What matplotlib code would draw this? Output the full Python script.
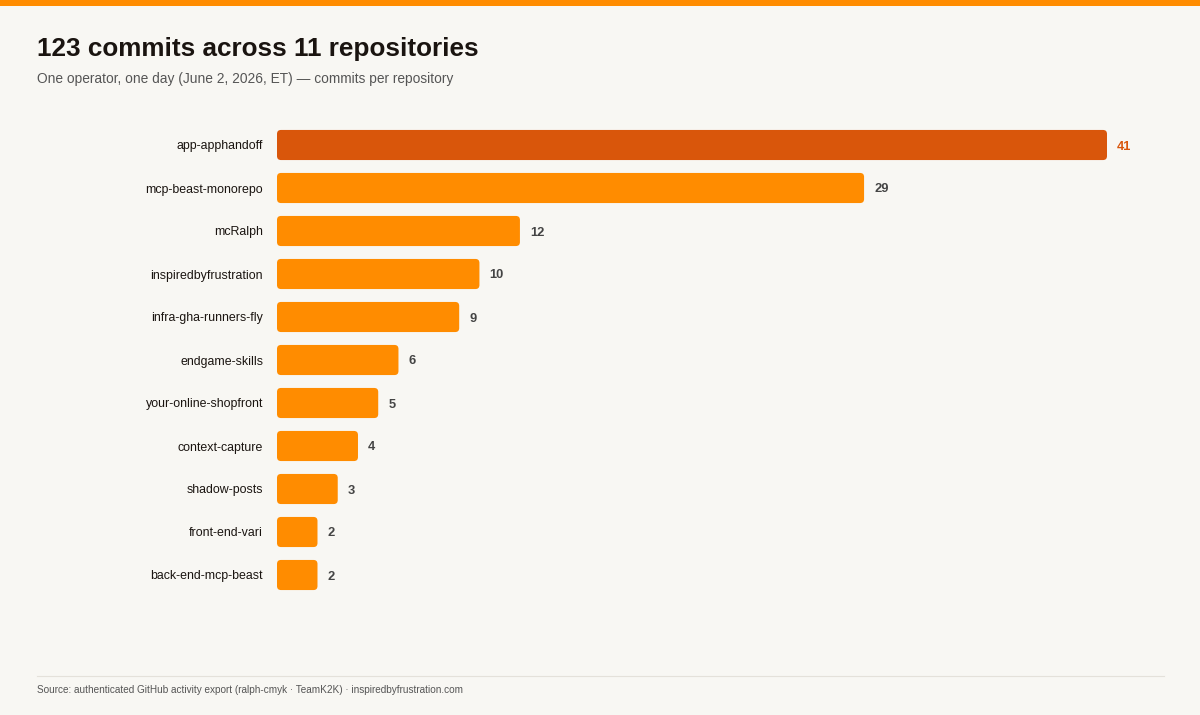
"""
Commits per repository for one day — horizontal bar chart.
"""

import matplotlib.pyplot as plt
from matplotlib.patches import FancyBboxPatch, Rectangle
from matplotlib.lines import Line2D

# ── Data ──────────────────────────────────────────────────────────────────────
REPOS = [
    "app-apphandoff",
    "mcp-beast-monorepo",
    "mcRalph",
    "inspiredbyfrustration",
    "infra-gha-runners-fly",
    "endgame-skills",
    "your-online-shopfront",
    "context-capture",
    "shadow-posts",
    "front-end-vari",
    "back-end-mcp-beast",
]
COMMITS = [41, 29, 12, 10, 9, 6, 5, 4, 3, 2, 2]

TITLE = "123 commits across 11 repositories"
SUBTITLE = "One operator, one day (June 2, 2026, ET) \u2014 commits per repository"
SOURCE = ("Source: authenticated GitHub activity export (ralph-cmyk \u00b7 TeamK2K) "
          "\u00b7 inspiredbyfrustration.com")

# ── Style ─────────────────────────────────────────────────────────────────────
BG = "#f8f7f3"
ORANGE = "#ff8c00"
DARK_ORANGE = "#d9560b"
TEXT = "#1a1410"
MUTED = "#555555"
plt.rcParams["font.family"] = ["Liberation Sans", "DejaVu Sans"]

W, H = 1200, 715
fig = plt.figure(figsize=(W / 100, H / 100), dpi=100, facecolor=BG)

# top accent band
fig.add_artist(Rectangle((0, 1 - 6 / H), 1, 6 / H, transform=fig.transFigure,
                         facecolor=ORANGE, edgecolor="none"))

fig.text(37 / W, 1 - 56 / H, TITLE, fontsize=18.8, fontweight="bold",
         color=TEXT, va="baseline")
fig.text(37 / W, 1 - 83 / H, SUBTITLE, fontsize=9.9, color=MUTED, va="baseline")

# ── Bars ──────────────────────────────────────────────────────────────────────
ax_left, ax_right = 277, 1164
ax_top, ax_bot = 123.5, 596.5
ax = fig.add_axes([ax_left / W, 1 - ax_bot / H,
                   (ax_right - ax_left) / W, (ax_bot - ax_top) / H])
ax.set_facecolor(BG)
px_per_unit = (1107 - 277) / 41
ax.set_xlim(0, (ax_right - ax_left) / px_per_unit)
ax.set_ylim(len(REPOS) - 0.5, -0.5)

bar_h = 0.7
rx = 4 / px_per_unit
ry = 4 / 43
for i, (name, val) in enumerate(zip(REPOS, COMMITS)):
    color = DARK_ORANGE if i == 0 else ORANGE
    patch = FancyBboxPatch((0, i - bar_h / 2), val, bar_h,
                           boxstyle=f"round,pad=0,rounding_size={rx}",
                           mutation_aspect=ry / rx,
                           facecolor=color, edgecolor="none")
    ax.add_patch(patch)
    ax.text(val + 10 / px_per_unit, i, str(val), va="center_baseline", ha="left",
            fontsize=9.3, fontweight="bold",
            color=DARK_ORANGE if i == 0 else "#444444")

ax.set_yticks(range(len(REPOS)))
ax.set_yticklabels(REPOS, fontsize=8.9, color=TEXT, va="center_baseline")
ax.tick_params(axis="y", length=0, pad=10)
ax.set_xticks([])
for s in ax.spines.values():
    s.set_visible(False)

# ── Footer ────────────────────────────────────────────────────────────────────
fig.add_artist(Line2D([37 / W, 1164 / W], [1 - 676 / H] * 2,
                      transform=fig.transFigure, color="#e4e1da", lw=0.8))
fig.text(37 / W, 1 - 690 / H, SOURCE, fontsize=7.2, color=MUTED, va="center")

fig.savefig("out.png", dpi=100, facecolor=BG)
